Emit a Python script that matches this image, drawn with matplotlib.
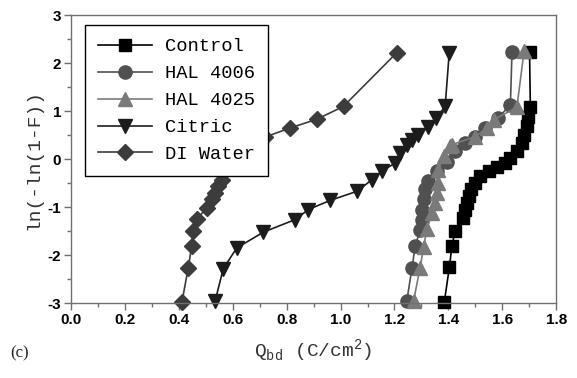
import matplotlib
matplotlib.use("Agg")
import matplotlib.pyplot as plt
from matplotlib.ticker import MultipleLocator

# ---- data ----
control_x = [1.385, 1.404, 1.413, 1.425, 1.456, 1.463, 1.469, 1.475, 1.485, 1.500, 1.518,
             1.549, 1.582, 1.611, 1.630, 1.654, 1.673, 1.681, 1.692, 1.697, 1.704, 1.701]
control_y = [-2.97, -2.24, -1.81, -1.50, -1.22, -1.05, -0.91, -0.77, -0.63, -0.49, -0.36,
             -0.25, -0.16, -0.08, 0.02, 0.16, 0.34, 0.51, 0.68, 0.88, 1.08, 2.24]

hal4006_x = [1.246, 1.265, 1.277, 1.295, 1.302, 1.302, 1.308, 1.314, 1.326, 1.357, 1.395,
             1.425, 1.463, 1.500, 1.537, 1.583, 1.630, 1.636]
hal4006_y = [-2.95, -2.26, -1.81, -1.48, -1.26, -1.05, -0.84, -0.63, -0.46, -0.25, -0.05,
             0.16, 0.34, 0.47, 0.65, 0.85, 1.13, 2.24]

hal4025_x = [1.271, 1.295, 1.308, 1.320, 1.339, 1.351, 1.357, 1.363, 1.363, 1.382, 1.407,
             1.413, 1.500, 1.543, 1.568, 1.654, 1.681]
hal4025_y = [-2.95, -2.26, -1.84, -1.46, -1.12, -0.91, -0.70, -0.49, -0.22, 0.06, 0.27,
             0.30, 0.47, 0.65, 0.82, 1.08, 2.26]

citric_x = [0.535, 0.565, 0.615, 0.714, 0.831, 0.881, 0.961, 1.061, 1.116, 1.153, 1.203,
            1.221, 1.246, 1.265, 1.289, 1.326, 1.355, 1.388, 1.403]
citric_y = [-2.95, -2.28, -1.85, -1.52, -1.26, -1.05, -0.86, -0.67, -0.43, -0.25, -0.08,
            0.13, 0.30, 0.40, 0.51, 0.67, 0.85, 1.10, 2.21]

diwater_x = [0.412, 0.435, 0.448, 0.454, 0.467, 0.504, 0.522, 0.535, 0.547, 0.559,
             0.720, 0.813, 0.912, 1.011, 1.209]
diwater_y = [-2.97, -2.26, -1.81, -1.50, -1.25, -1.01, -0.84, -0.70, -0.56, -0.43,
             0.46, 0.65, 0.83, 1.10, 2.22]

x_ticks = [0.0, 0.2, 0.4, 0.6, 0.8, 1.0, 1.2, 1.4, 1.6, 1.8]
y_ticks = [-3, -2, -1, 0, 1, 2, 3]

series = [
    ("Control", control_x, control_y, "s", "#000000", 8.5),
    ("HAL 4006", hal4006_x, hal4006_y, "o", "#505050", 9.5),
    ("HAL 4025", hal4025_x, hal4025_y, "^", "#7a7a7a", 10),
    ("Citric", citric_x, citric_y, "v", "#1c1c1c", 10),
    ("DI Water", diwater_x, diwater_y, "D", "#3c3c3c", 8),
]

fig = plt.figure(figsize=(5.77, 3.78), dpi=100)
ax = fig.add_axes([0.123, 0.198, 0.841, 0.762])

for name, xs, ys, m, c, ms in series:
    ax.plot(xs, ys, marker=m, color=c, markerfacecolor=c, markeredgecolor=c,
            markersize=ms, linewidth=1.2, label=name, clip_on=False)

ax.set_xlim(0.0, 1.8)
ax.set_ylim(-3, 3)
ax.set_xticks(x_ticks)
ax.set_xticklabels([f"{v:.1f}" for v in x_ticks])
ax.set_yticks(y_ticks)
ax.set_yticklabels([str(v) for v in y_ticks])
ax.xaxis.set_minor_locator(MultipleLocator(0.1))
ax.yaxis.set_minor_locator(MultipleLocator(0.5))

for sp in ax.spines.values():
    sp.set_color("#707070")
    sp.set_linewidth(1.0)

ax.tick_params(axis="both", which="major", direction="out", length=5, width=1,
               color="#707070", labelsize=11, pad=2)
ax.tick_params(axis="both", which="minor", direction="out", length=3, width=1,
               color="#707070")
for lab in ax.get_xticklabels() + ax.get_yticklabels():
    lab.set_fontweight("bold")
    lab.set_family("Liberation Sans")

mono = "Liberation Mono"
ax.set_ylabel("ln(-ln(1-F))", family=mono, fontsize=14, color="#333333", labelpad=4)
ax.set_xlabel(r"Q$_{\mathregular{bd}}$ (C/cm$^{\mathregular{2}}$)", family=mono,
              fontsize=14, color="#333333", labelpad=8)
fig.text(0.017, 0.055, "(c)", family="Liberation Serif", fontsize=12, color="#222222")

leg = ax.legend(loc="upper left", bbox_to_anchor=(0.029, 0.965), borderaxespad=0,
                prop={"family": mono, "size": 13.5}, fancybox=False, framealpha=1,
                edgecolor="#000000", handlelength=2.85, labelspacing=0.52,
                borderpad=0.7, handletextpad=0.7)
leg.get_frame().set_linewidth(1.0)
leg.set_zorder(10)

fig.savefig("out.png", dpi=100)
